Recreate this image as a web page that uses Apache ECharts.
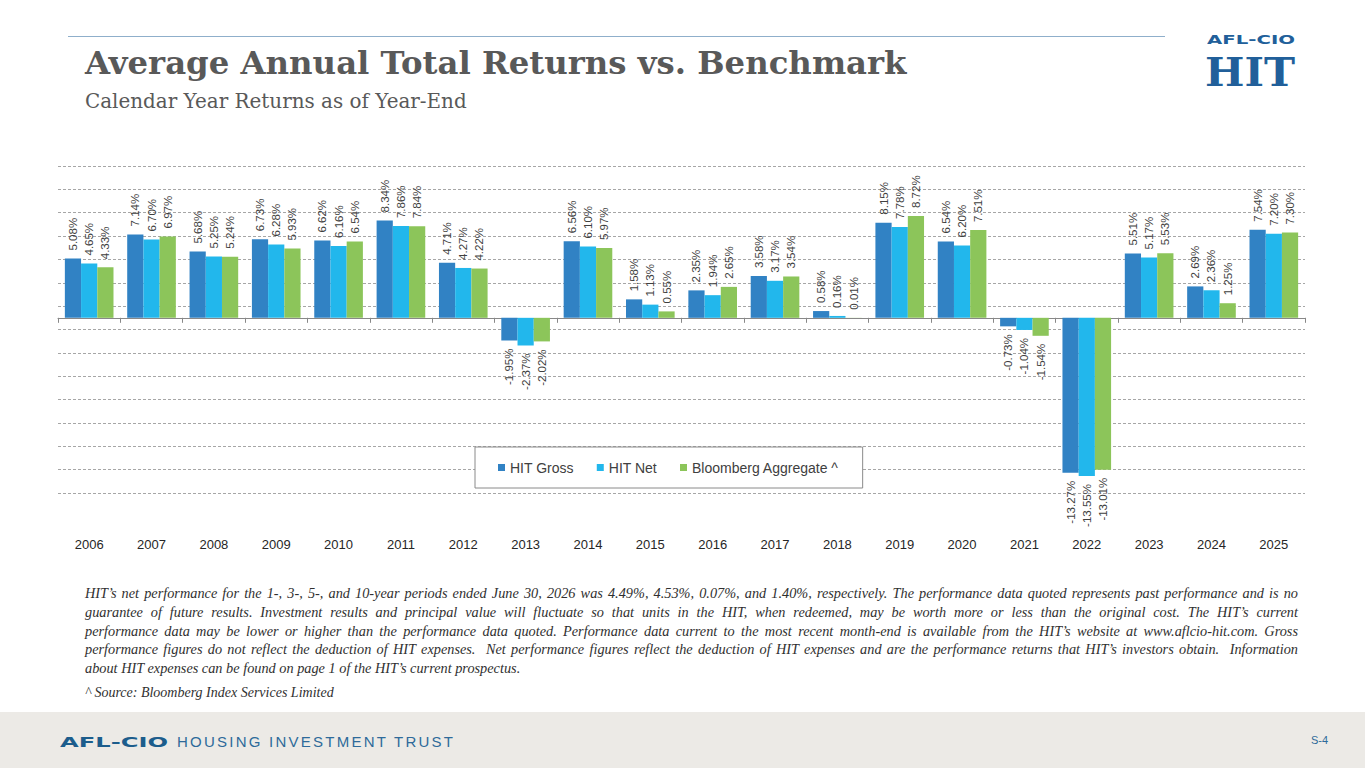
<!DOCTYPE html>
<html>
<head>
<meta charset="utf-8">
<script src="https://cdn.jsdelivr.net/npm/echarts@6.0.0/dist/echarts.min.js"></script>
<style>
html,body{margin:0;padding:0;width:1365px;height:768px;overflow:hidden;background:#fff;}
#chart{position:absolute;left:0;top:0;width:1365px;height:768px;}
.rule{position:absolute;left:68px;top:36px;width:1097px;height:1px;background:#8FAFCB;}
.fit{position:absolute;white-space:nowrap;transform-origin:left top;display:inline-block;}
#logoTop{left:1207px;top:34.2px;font:bold 12.5px 'DejaVu Sans';line-height:12px;height:12px;color:#215F9A;}
#logoHit{left:1205px;top:56.7px;font:bold 40px 'DejaVu Serif';line-height:30px;height:30px;color:#215F9A;}
#notes{position:absolute;left:85px;top:584px;width:1213px;font:italic 14.3px 'Liberation Serif';color:#303030;}
#notes .ln{height:18.75px;line-height:18.75px;text-align:justify;text-align-last:justify;}
#notes .last{text-align:left;text-align-last:left;}
#source{position:absolute;left:85px;top:684px;font:italic 14px 'Liberation Serif';line-height:18px;color:#303030;}
#footer{position:absolute;left:0;top:712px;width:1365px;height:56px;background:#ECEAE6;}
#fAfl{left:60px;top:735px;font:bold 14px 'DejaVu Sans';line-height:14px;color:#1C5D8C;}
#fHit{left:177px;top:734px;font:15px 'Liberation Sans';line-height:15px;color:#2E6A9A;}
#page{position:absolute;left:1311px;top:733px;font:11px 'Liberation Sans';line-height:14px;color:#2E6A9A;}
</style>
</head>
<body>
<div id="chart"></div>
<div class="rule"></div>
<span class="fit" id="logoTop">AFL-CIO</span>
<span class="fit" id="logoHit">HIT</span>
<div id="notes">
<div class="ln">HIT’s net performance for the 1-, 3-, 5-, and 10-year periods ended June 30, 2026 was 4.49%, 4.53%, 0.07%, and 1.40%, respectively. The performance data quoted represents past performance and is no</div>
<div class="ln">guarantee of future results. Investment results and principal value will fluctuate so that units in the HIT, when redeemed, may be worth more or less than the original cost. The HIT’s current</div>
<div class="ln">performance data may be lower or higher than the performance data quoted. Performance data current to the most recent month-end is available from the HIT’s website at www.aflcio-hit.com. Gross</div>
<div class="ln">performance figures do not reflect the deduction of HIT expenses.&nbsp; Net performance figures reflect the deduction of HIT expenses and are the performance returns that HIT’s investors obtain.&nbsp; Information</div>
<div class="ln last">about HIT expenses can be found on page 1 of the HIT’s current prospectus.</div>
</div>
<div id="source">^ Source: Bloomberg Index Services Limited</div>
<div id="footer"></div>
<span class="fit" id="fAfl">AFL-CIO</span>
<span class="fit" id="fHit">HOUSING INVESTMENT TRUST</span>
<div id="page">S-4</div>
<script>
// ---- data ----
const years = ['2006','2007','2008','2009','2010','2011','2012','2013','2014','2015','2016','2017','2018','2019','2020','2021','2022','2023','2024','2025'];
const hitGross = [5.08, 7.14, 5.68, 6.73, 6.62, 8.34, 4.71, -1.95, 6.56, 1.58, 2.35, 3.58, 0.58, 8.15, 6.54, -0.73, -13.27, 5.51, 2.69, 7.54];
const hitNet = [4.65, 6.70, 5.25, 6.28, 6.16, 7.86, 4.27, -2.37, 6.10, 1.13, 1.94, 3.17, 0.16, 7.78, 6.20, -1.04, -13.55, 5.17, 2.36, 7.20];
const bloomberg = [4.33, 6.97, 5.24, 5.93, 6.54, 7.84, 4.22, -2.02, 5.97, 0.55, 2.65, 3.54, 0.01, 8.72, 7.51, -1.54, -13.01, 5.53, 1.25, 7.30];
const seriesNames = ['HIT Gross', 'HIT Net', 'Bloomberg Aggregate ^'];
const titleText = 'Average Annual Total Returns vs. Benchmark';
const subtitleText = 'Calendar Year Returns as of Year-End';

// ---- styles ----
const colors = ['#3182C4', '#22B7EC', '#8CC55A'];

function fitScale(id, target) {
  const el = document.getElementById(id);
  const w = el.getBoundingClientRect().width;
  el.style.transform = 'scaleX(' + (target / w) + ')';
}
fitScale('logoTop', 88);
fitScale('logoHit', 90);
fitScale('fAfl', 108);
(function () {
  const el = document.getElementById('fHit');
  const w = el.getBoundingClientRect().width;
  const n = el.textContent.length;
  el.style.letterSpacing = ((276 - w) / (n - 1)) + 'px';
})();

const ctx = document.createElement('canvas').getContext('2d');
function fitFont(text, weight, family, base, target) {
  ctx.font = weight + ' ' + base + 'px ' + family;
  return base * target / ctx.measureText(text).width;
}
const titleSize = fitFont(titleText, 'bold', '"DejaVu Serif"', 30, 822);
const subSize = fitFont(subtitleText, 'normal', '"DejaVu Serif"', 17, 382);

function withLabels(arr) {
  return arr.map(v => ({
    value: v,
    label: v < 0 ? { position: 'bottom', align: 'right' } : { position: 'top', align: 'left' }
  }));
}

const chart = echarts.init(document.getElementById('chart'), null, { renderer: 'svg' });
const option = {
  animation: false,
  title: [
    { text: titleText, left: 85, top: 74 - 18 - 0.345 * titleSize, padding: 0,
      textStyle: { fontFamily: 'DejaVu Serif', fontWeight: 'bold', fontSize: titleSize, lineHeight: 36, color: '#595959' } },
    { text: subtitleText, left: 85, top: 108.5 - 11 - 0.345 * subSize, padding: 0,
      textStyle: { fontFamily: 'DejaVu Serif', fontWeight: 'normal', fontSize: subSize, lineHeight: 22, color: '#595959' } }
  ],
  legend: {
    data: seriesNames, left: 475, top: 447, orient: 'horizontal',
    padding: [13, 24, 13, 23], itemGap: 23, itemWidth: 7, itemHeight: 7, icon: 'rect',
    borderColor: '#8A8A8A', borderWidth: 1, backgroundColor: '#fff', selectedMode: false,
    textStyle: { fontSize: 14, lineHeight: 15, color: '#404040', fontFamily: 'Liberation Sans' }
  },
  grid: { left: 58, top: 166, width: 1247, height: 327, outerBoundsMode: 'none', containLabel: false },
  xAxis: [
    { type: 'category', data: years, position: 'bottom',
      axisLine: { onZero: true, lineStyle: { color: '#888888', width: 1 } },
      axisTick: { show: true, length: 5, lineStyle: { color: '#888888' } },
      axisLabel: { show: false }, splitLine: { show: false } },
    { type: 'category', data: years, position: 'bottom',
      axisLine: { show: false, onZero: false }, axisTick: { show: false },
      axisLabel: { margin: 45, fontSize: 13, color: '#262626', fontFamily: 'Liberation Sans', interval: 0 },
      splitLine: { show: false } }
  ],
  yAxis: {
    type: 'value', min: -15, max: 13, interval: 2,
    axisLabel: { show: false }, axisLine: { show: false }, axisTick: { show: false },
    splitLine: { show: true, lineStyle: { type: [3, 2], color: '#A6A6A6', width: 1 } }
  },
  series: [hitGross, hitNet, bloomberg].map((arr, i) => ({
    name: seriesNames[i], type: 'bar', xAxisIndex: 0, yAxisIndex: 0,
    data: withLabels(arr), barGap: '0%', barCategoryGap: '22%',
    itemStyle: { color: colors[i] },
    emphasis: { disabled: true },
    label: {
      show: true, rotate: 90, distance: 8, verticalAlign: 'middle',
      fontSize: 11.5, color: '#404040', fontFamily: 'Liberation Sans',
      formatter: p => p.value.toFixed(2) + '%'
    }
  }))
};
chart.setOption(option);
</script>
</body>
</html>
